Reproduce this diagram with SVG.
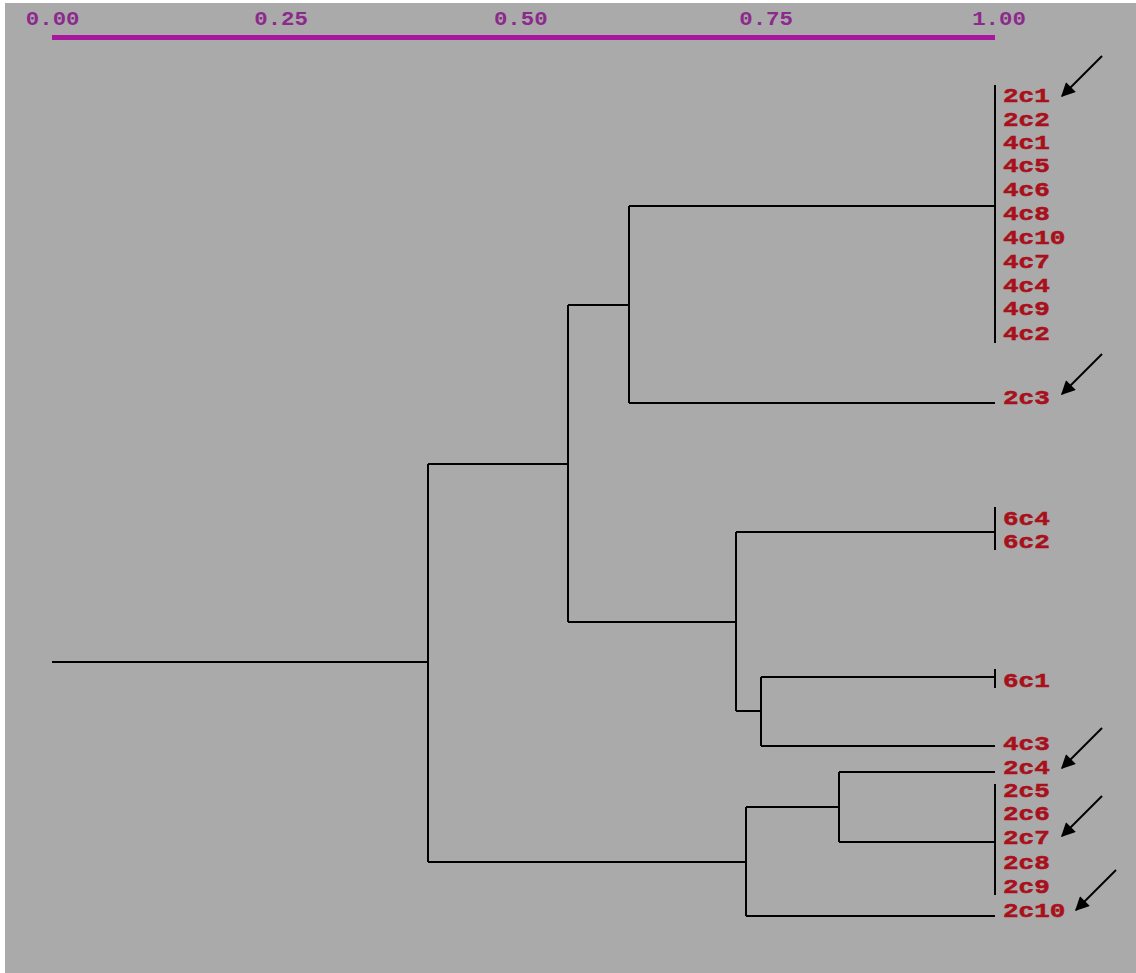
<svg xmlns="http://www.w3.org/2000/svg" width="1136" height="973" viewBox="0 0 1136 973">
<defs>
<style>
.lbl{font-family:"Liberation Mono","DejaVu Sans Mono",monospace;font-weight:bold;font-size:20px;fill:#a8101c;stroke:#a8101c;stroke-width:0.5}
.sc{font-family:"Liberation Mono","DejaVu Sans Mono",monospace;font-weight:bold;font-size:20px;fill:#8c2a8c;text-anchor:middle}
.ln{stroke:#000;stroke-width:2;fill:none}
.ar{stroke:#000;stroke-width:2;fill:none;marker-end:url(#ah)}
</style>
<marker id="ah" viewBox="0 0 10 10" refX="9" refY="5" markerWidth="8" markerHeight="7" orient="auto" markerUnits="strokeWidth">
<path d="M0,0 L10,5 L0,10 z" fill="#000"/>
</marker>
</defs>
<rect x="0" y="0" width="1136" height="973" fill="#ffffff"/>
<rect x="5" y="3" width="1131" height="970" fill="#aaaaaa"/>
<g id="scale">
<rect x="52" y="35" width="943" height="5" fill="#a8189f"/>
<g transform="scale(1.12,1)">
<text class="sc" x="47" y="25">0.00</text>
<text class="sc" x="251" y="25">0.25</text>
<text class="sc" x="465" y="25">0.50</text>
<text class="sc" x="684" y="25">0.75</text>
<text class="sc" x="892" y="25">1.00</text>
</g>
</g>
<g id="connectors">
<path class="ln" d="M52,662 H428 M428,464 V862 M428,464 H568 M568,305 V622 M568,305 H629 M629,206 V403 M629,206 H995 M995,85 V343 M629,403 H995 M568,622 H736 M736,532 V711 M736,532 H995 M995,507 V550 M736,711 H761 M761,677 V746 M761,677 H995 M995,669 V688 M761,746 H995 M428,862 H746 M746,807 V916 M746,807 H839 M839,772 V842 M839,772 H995 M839,842 H995 M995,784 V895 M746,916 H995"/>
</g>
<g id="labels" transform="translate(1003,0) scale(1.3,1)">
<text class="lbl" x="0" y="102">2c1</text>
<text class="lbl" x="0" y="126">2c2</text>
<text class="lbl" x="0" y="149">4c1</text>
<text class="lbl" x="0" y="172">4c5</text>
<text class="lbl" x="0" y="196">4c6</text>
<text class="lbl" x="0" y="220">4c8</text>
<text class="lbl" x="0" y="244">4c10</text>
<text class="lbl" x="0" y="268">4c7</text>
<text class="lbl" x="0" y="292">4c4</text>
<text class="lbl" x="0" y="315">4c9</text>
<text class="lbl" x="0" y="340">4c2</text>
<text class="lbl" x="0" y="404">2c3</text>
<text class="lbl" x="0" y="525">6c4</text>
<text class="lbl" x="0" y="548">6c2</text>
<text class="lbl" x="0" y="687">6c1</text>
<text class="lbl" x="0" y="750">4c3</text>
<text class="lbl" x="0" y="774">2c4</text>
<text class="lbl" x="0" y="797">2c5</text>
<text class="lbl" x="0" y="820">2c6</text>
<text class="lbl" x="0" y="844">2c7</text>
<text class="lbl" x="0" y="869">2c8</text>
<text class="lbl" x="0" y="893">2c9</text>
<text class="lbl" x="0" y="917">2c10</text>
</g>
<g id="arrows">
<line class="ar" x1="1102" y1="56" x2="1062" y2="96"/>
<line class="ar" x1="1102" y1="354" x2="1062" y2="394"/>
<line class="ar" x1="1102" y1="728" x2="1062" y2="768"/>
<line class="ar" x1="1102" y1="796" x2="1062" y2="836"/>
<line class="ar" x1="1116" y1="870" x2="1076" y2="910"/>
</g>
</svg>
